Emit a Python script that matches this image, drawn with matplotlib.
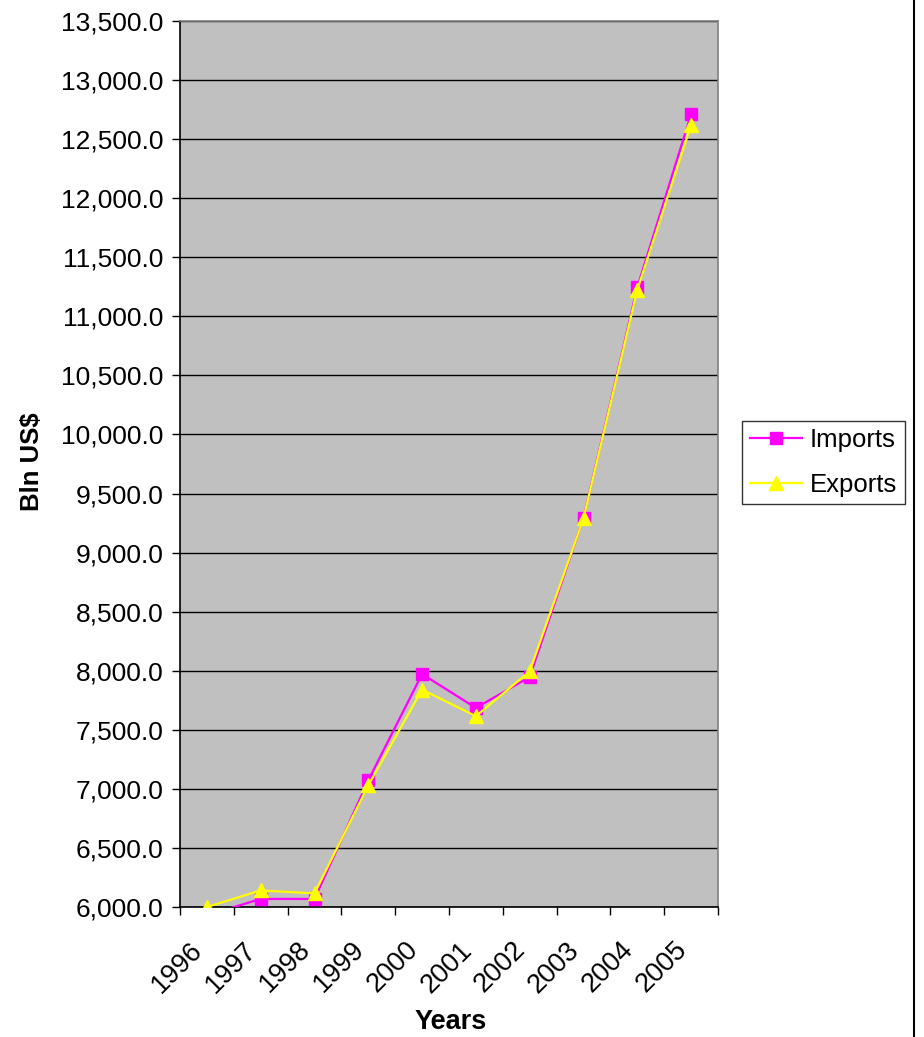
import matplotlib
matplotlib.use("Agg")
import matplotlib.pyplot as plt
from matplotlib.lines import Line2D
from matplotlib.transforms import ScaledTranslation
from matplotlib.ticker import FuncFormatter, MultipleLocator, FixedLocator

years = ["1996", "1997", "1998", "1999", "2000", "2001", "2002", "2003", "2004", "2005"]
imports = [5930, 6068, 6068, 7072, 7972, 7685, 7947, 9295, 11245, 12710]
exports = [6000, 6140, 6115, 7030, 7840, 7615, 7995, 9290, 11225, 12620]

plt.rcParams['font.family'] = ['Liberation Sans', 'DejaVu Sans']

W, H = 924, 1037
fig = plt.figure(figsize=(W / 100, H / 100), dpi=100)
ax = fig.add_axes([180 / W, 1 - 907 / H, (718 - 180) / W, (907 - 21) / H])
ax.set_facecolor('#C0C0C0')

x = list(range(len(years)))
ax.plot(x, imports, color='#FF00FF', lw=1.6, marker='s', ms=8.5, mec='#FF00FF', mfc='#FF00FF', label='Imports', zorder=3)
ax.plot(x, exports, color='#FFFF00', lw=1.6, marker='^', ms=10.5, mec='#FFFF00', mfc='#FFFF00', label='Exports', zorder=4)

ax.set_xlim(-0.5, len(years) - 0.5)
ax.set_ylim(6000, 13500)
ax.yaxis.set_major_locator(MultipleLocator(500))
ax.yaxis.set_major_formatter(FuncFormatter(lambda v, p: f"{v:,.1f}"))
ax.grid(axis='y', color='black', lw=1.0)
ax.set_axisbelow(True)

ax.set_xticks(x)
ax.set_xticklabels(years, rotation=45, ha='right', va='center', rotation_mode='anchor', fontsize=19.5)
ax.xaxis.set_minor_locator(FixedLocator([i - 0.5 for i in range(len(years) + 1)]))
ax.tick_params(axis='x', which='major', length=0, pad=28)
ax.tick_params(axis='x', which='minor', length=6, width=1, direction='out', color='black')
ax.tick_params(axis='y', length=6, width=1, direction='out', labelsize=19, pad=6)
shift = ScaledTranslation(-8 / 100, 0, fig.dpi_scale_trans)
for lab in ax.get_xticklabels():
    lab.set_transform(lab.get_transform() + shift)

for s in ['top', 'right']:
    ax.spines[s].set_color('#808080')
    ax.spines[s].set_linewidth(1.2)
for s in ['left', 'bottom']:
    ax.spines[s].set_color('black')
    ax.spines[s].set_linewidth(1.2)

fig.text(32 / W, 1 - 462 / H, 'Bln US$', rotation=90, ha='center', va='center', fontsize=18.5, fontweight='bold')
fig.text(451 / W, 1 - 1022 / H, 'Years', ha='center', va='center', fontsize=19.5, fontweight='bold')

leg = fig.legend(loc='center', bbox_to_anchor=(741 / W, 1 - 506 / H, 165 / W, 87 / H),
                 fontsize=18.5, frameon=True, fancybox=False, shadow=False,
                 handlelength=2.05, handletextpad=0.3, borderpad=0.3, labelspacing=0.8,
                 borderaxespad=0)
leg.get_frame().set_edgecolor('black')
leg.get_frame().set_linewidth(1.0)

fig.add_artist(Line2D([914 / W, 914 / W], [0, 1], color='black', lw=1.5, transform=fig.transFigure))

fig.savefig('out.png', dpi=100, facecolor='white')
